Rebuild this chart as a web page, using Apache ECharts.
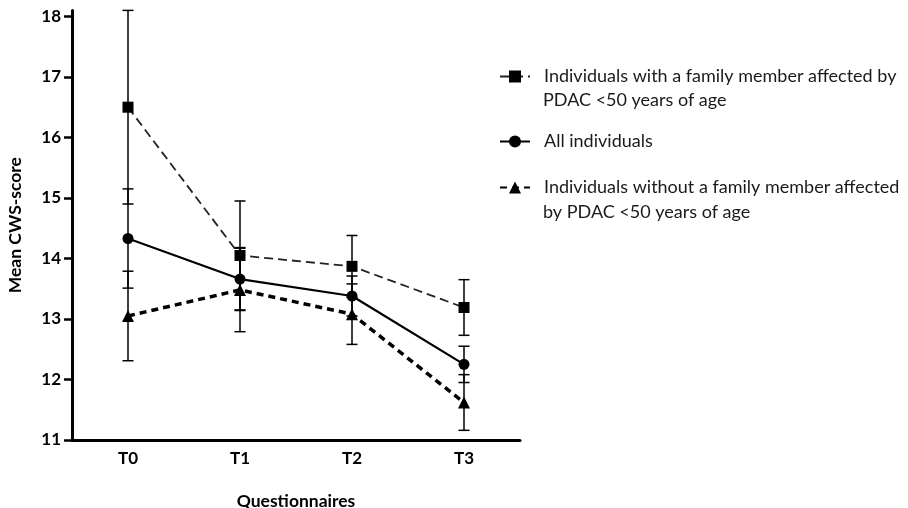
<!DOCTYPE html>
<html>
<head>
<meta charset="utf-8">
<script src="https://cdn.jsdelivr.net/npm/echarts@6/dist/echarts.min.js"></script>
<style>
html,body{margin:0;padding:0;background:#fff;}
#chart{width:908px;height:508px;}
</style>
</head>
<body>
<div id="chart"></div>
<script>
const categories = ['T0', 'T1', 'T2', 'T3'];
const yTicks = [11, 12, 13, 14, 15, 16, 17, 18];

const familyMean = [16.5, 14.05, 13.87, 13.19];
const familyErr = [1.6, 0.9, 0.51, 0.46];
const allMean = [14.33, 13.66, 13.38, 12.25];
const allErr = [0.82, 0.52, 0.33, 0.30];
const noFamMean = [13.05, 13.48, 13.08, 11.62];
const noFamErr = [0.74, 0.69, 0.5, 0.46];

const legendLines = [
  ['Individuals with a family member affected by', 'PDAC <50 years of age'],
  ['All individuals'],
  ['Individuals without a family member affected', 'by PDAC <50 years of age']
];
const seriesNames = legendLines.map(l => l.join(' '));

const FONT = 'Lato';

function errData(mean, err) {
  return mean.map((m, i) => [i, m - err[i], m + err[i]]);
}
function errRender(params, api) {
  const lo = api.coord([api.value(0), api.value(1)]);
  const hi = api.coord([api.value(0), api.value(2)]);
  const w = 5.5;
  const style = { stroke: '#000', lineWidth: 1.5, fill: null };
  return {
    type: 'group',
    children: [
      { type: 'line', shape: { x1: lo[0], y1: lo[1], x2: hi[0], y2: hi[1] }, style },
      { type: 'line', shape: { x1: lo[0] - w, y1: lo[1], x2: lo[0] + w, y2: lo[1] }, style },
      { type: 'line', shape: { x1: hi[0] - w, y1: hi[1], x2: hi[0] + w, y2: hi[1] }, style }
    ]
  };
}

const chart = echarts.init(document.getElementById('chart'), null, { renderer: 'canvas' });

const legendText = { fontFamily: FONT, fontSize: 18, color: '#1a1a1a', lineHeight: 23, padding: [0, 0, 0, 9] };
function mkLegend(i, top) {
  return {
    data: [seriesNames[i]],
    orient: 'vertical',
    left: 499,
    top: top,
    padding: 0,
    itemWidth: 30,
    itemHeight: 15,
    itemGap: 0,
    formatter: () => legendLines[i][0],
    textStyle: legendText,
    selectedMode: false
  };
}

const option = {
  animation: false,
  backgroundColor: '#fff',
  grid: { left: 72, right: 388, top: 10.4, bottom: 68, containLabel: false, outerBoundsMode: 'none' },
  xAxis: {
    type: 'category',
    data: categories,
    boundaryGap: true,
    name: 'Questionnaires',
    nameLocation: 'middle',
    nameGap: 52,
    nameTextStyle: { fontFamily: FONT, fontWeight: 'bold', fontSize: 17.5, color: '#000' },
    axisLine: { lineStyle: { color: '#000', width: 3 } },
    axisTick: { alignWithLabel: true, length: 7, lineStyle: { color: '#000', width: 2.5 } },
    axisLabel: { fontFamily: FONT, fontWeight: 'bold', fontSize: 17, color: '#000', margin: 10 },
    splitLine: { show: false }
  },
  yAxis: {
    type: 'value',
    min: 11,
    max: 18.1,
    name: 'Mean CWS-score',
    nameLocation: 'middle',
    nameGap: 48,
    nameRotate: 90,
    nameTextStyle: { fontFamily: FONT, fontWeight: 'bold', fontSize: 17.5, color: '#000' },
    axisLine: { show: true, lineStyle: { color: '#000', width: 3 } },
    axisTick: { show: true, length: 8, customValues: yTicks, lineStyle: { color: '#000', width: 2.5 } },
    axisLabel: { fontFamily: FONT, fontWeight: 'bold', fontSize: 17, color: '#000', margin: 11, customValues: yTicks },
    splitLine: { show: false }
  },
  legend: [mkLegend(0, 65), mkLegend(1, 130), mkLegend(2, 176)],
  graphic: [
    { type: 'text', left: 543, top: 91, style: { text: legendLines[0][1], font: '18px Lato', fill: '#1a1a1a' } },
    { type: 'text', left: 543, top: 203, style: { text: legendLines[2][1], font: '18px Lato', fill: '#1a1a1a' } }
  ],
  series: [
    {
      type: 'custom', name: 'errFam', renderItem: errRender, data: errData(familyMean, familyErr),
      clip: false, z: 1, silent: true, encode: { x: 0, y: [1, 2] }
    },
    {
      type: 'custom', name: 'errAll', renderItem: errRender, data: errData(allMean, allErr),
      clip: false, z: 1, silent: true, encode: { x: 0, y: [1, 2] }
    },
    {
      type: 'custom', name: 'errNoFam', renderItem: errRender, data: errData(noFamMean, noFamErr),
      clip: false, z: 1, silent: true, encode: { x: 0, y: [1, 2] }
    },
    {
      type: 'line', name: seriesNames[0], data: familyMean,
      symbol: 'rect', symbolSize: 11, showSymbol: true,
      itemStyle: { color: '#000' },
      lineStyle: { color: '#222', width: 1.8, type: [9, 5] },
      z: 3
    },
    {
      type: 'line', name: seriesNames[1], data: allMean,
      symbol: 'circle', symbolSize: 11,
      itemStyle: { color: '#000' },
      lineStyle: { color: '#000', width: 2.2, type: 'solid' },
      z: 3
    },
    {
      type: 'line', name: seriesNames[2], data: noFamMean,
      symbol: 'triangle', symbolSize: 12,
      itemStyle: { color: '#000' },
      lineStyle: { color: '#000', width: 3.5, type: [7, 5] },
      z: 3
    }
  ]
};
chart.setOption(option);
</script>
</body>
</html>
